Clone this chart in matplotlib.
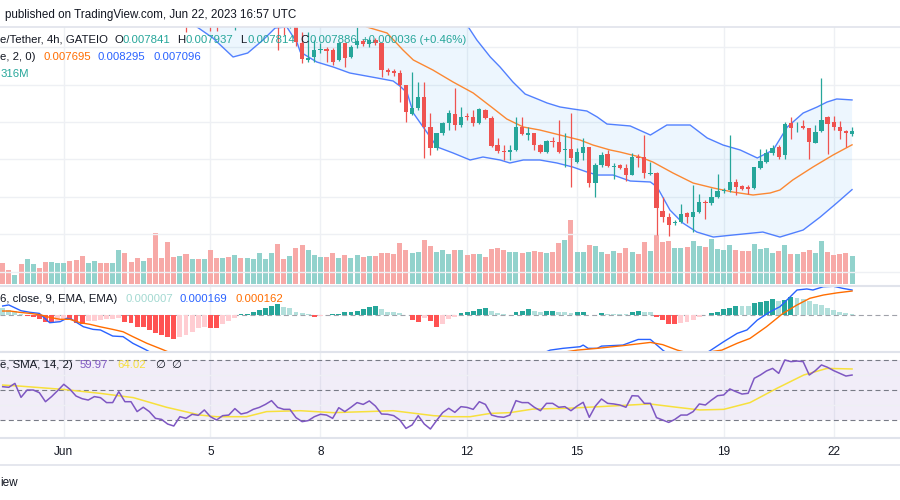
import numpy as np
import pandas as pd
import matplotlib
matplotlib.use("Agg")
import matplotlib.pyplot as plt
from matplotlib.lines import Line2D

plt.rcParams['font.family'] = ['Liberation Sans', 'DejaVu Sans']

# 4h candles, prices in micro-USDT (7841 -> 0.007841)
opens = [9990, 9960, 9940, 9970, 9920, 9980, 10010, 9970, 9930, 9960,
         9990, 10020, 9980, 9940, 9880, 9910, 9940, 9910, 9880, 9910,
         9980, 9900, 9870, 9800, 9840, 9780, 9640, 9590, 9450, 9410,
         9470, 9350, 9420, 9360, 9430, 9330, 9290, 9380, 9330, 9400,
         9350, 9420, 9480, 9540, 9580, 9620, 9420, 9300, 9350, 9056,
         8829, 8869, 8969, 8976, 8963, 8829, 9056, 8869, 9029, 9083,
         9043, 9096, 9056, 8695, 8682, 8655, 8495, 8107, 8187, 8334,
         7933, 7652, 7853, 7987, 8107, 7960, 8080, 8067, 7987, 8160,
         8053, 7692, 7612, 7599, 7626, 7933, 7826, 7853, 7692, 7599,
         7746, 7733, 7626, 7639, 7465, 7586, 7666, 7184, 7425, 7572,
         7405, 7425, 7385, 7291, 7532, 7532, 7305, 7318, 6810, 6730,
         6650, 6663, 6783, 6730, 6797, 6930, 6917, 6997, 7078, 7091,
         7198, 7144, 7131, 7118, 7385, 7465, 7586, 7666, 7559, 7987,
         7940, 7947, 7920, 7719, 7880, 8067, 8000, 7933, 7880, 7841]
highs = [10020, 9990, 9990, 9990, 9990, 10040, 10030, 9990, 9980, 10000,
         10050, 10040, 10000, 9960, 9930, 9960, 9960, 9930, 9930, 10000,
         10000, 9920, 9890, 9860, 9860, 9800, 9670, 9610, 9480, 9500,
         9490, 9440, 9440, 9450, 9450, 9350, 9400, 9400, 9420, 9420,
         9440, 9500, 9560, 9600, 9650, 9650, 9450, 9380, 9380, 9203,
         9203, 9096, 9056, 9003, 8989, 9070, 9056, 9029, 9270, 9110,
         9123, 9123, 9056, 8722, 8709, 8695, 8495, 8669, 8535, 8535,
         8120, 7853, 8000, 8160, 8455, 8201, 8120, 8160, 8187, 8174,
         8080, 7786, 7692, 7692, 8067, 8067, 7933, 7853, 7706, 7759,
         7799, 8027, 7853, 8120, 7652, 7786, 7666, 7452, 7599, 7626,
         7452, 7439, 7439, 7586, 7572, 7826, 7465, 7332, 6997, 6783,
         6690, 6904, 6797, 7158, 7037, 6957, 7118, 7305, 7118, 7826,
         7238, 7158, 7158, 7398, 7639, 7639, 7692, 7692, 8000, 8067,
         8000, 8027, 7920, 7960, 8588, 8080, 8080, 8013, 7893, 7937]
lows = [9940, 9920, 9930, 9900, 9910, 9960, 9950, 9900, 9910, 9940,
        9970, 9960, 9920, 9860, 9860, 9890, 9890, 9860, 9860, 9900,
        9880, 9850, 9780, 9780, 9760, 9600, 9560, 9420, 9380, 9390,
        9200, 9330, 9320, 9340, 9210, 9210, 9280, 9300, 9230, 9320,
        9330, 9400, 9460, 9520, 9560, 8960, 9160, 9250, 9016, 8789,
        8802, 8802, 8922, 8802, 8762, 8815, 8735, 8856, 8989, 9016,
        9003, 9029, 8602, 8628, 8615, 8267, 8000, 8094, 8160, 7519,
        7559, 7626, 7826, 7893, 7893, 7933, 8027, 7947, 7973, 8040,
        7666, 7586, 7492, 7492, 7612, 7826, 7759, 7626, 7586, 7586,
        7666, 7586, 7398, 7131, 7452, 7492, 7131, 6997, 7398, 7398,
        7238, 7372, 7211, 7291, 7398, 7251, 7291, 6489, 6663, 6476,
        6623, 6650, 6650, 6529, 6783, 6703, 6890, 6984, 7051, 7064,
        7024, 7091, 7037, 7104, 7372, 7452, 7559, 7505, 7505, 7773,
        7866, 7906, 7505, 7719, 7866, 7572, 7893, 7773, 7666, 7814]
closes = [9960, 9940, 9970, 9920, 9980, 10010, 9970, 9930, 9960, 9990,
          10020, 9980, 9940, 9880, 9910, 9940, 9910, 9880, 9910, 9980,
          9900, 9870, 9800, 9840, 9780, 9640, 9590, 9450, 9410, 9470,
          9350, 9420, 9360, 9430, 9330, 9290, 9380, 9330, 9400, 9350,
          9420, 9480, 9540, 9580, 9620, 9420, 9300, 9350, 9070, 8842,
          8856, 8963, 8976, 8949, 8802, 9056, 8856, 9003, 9083, 9043,
          9096, 9056, 8695, 8669, 8655, 8495, 8134, 8187, 8334, 7933,
          7652, 7853, 7987, 8120, 7960, 8067, 8067, 7987, 8174, 8053,
          7679, 7612, 7599, 7626, 7933, 7840, 7853, 7692, 7599, 7746,
          7733, 7599, 7639, 7519, 7599, 7666, 7184, 7425, 7559, 7412,
          7412, 7385, 7291, 7532, 7519, 7318, 7318, 6850, 6730, 6623,
          6663, 6770, 6730, 6797, 6930, 6917, 6997, 7078, 7091, 7198,
          7131, 7104, 7104, 7398, 7479, 7586, 7652, 7532, 7973, 7920,
          7947, 7920, 7733, 7866, 8027, 7973, 7933, 7880, 7850, 7886]
# volume in millions
volumes = [21, 14, 9, 20, 25, 20, 16, 22, 22, 21, 21, 23, 24, 28, 21, 23, 21, 21, 21, 34,
           31, 22, 26, 23, 26, 51, 26, 42, 27, 28, 30, 25, 25, 25, 34, 26, 26, 27, 29, 26,
           26, 25, 31, 25, 31, 40, 25, 28, 36, 39, 34, 29, 27, 27, 31, 26, 29, 26, 29, 27,
           28, 28, 31, 31, 30, 41, 34, 31, 32, 44, 38, 32, 34, 30, 34, 34, 29, 30, 30, 27,
           35, 36, 34, 32, 32, 31, 32, 33, 32, 31, 32, 41, 44, 64, 32, 32, 39, 38, 32, 30,
           33, 31, 36, 32, 30, 42, 33, 49, 42, 43, 36, 36, 37, 43, 38, 37, 45, 35, 34, 39,
           34, 33, 33, 40, 35, 36, 31, 33, 39, 30, 30, 32, 34, 31, 43, 32, 29, 30, 31, 28.3]

# Bollinger bands (20, 2) sampled along the candles: (candle index, micro-USDT)
bb_up_i = [30, 50, 65, 72, 76.2, 77.6, 79.8, 81.4, 83.5, 85.5, 87.5, 89.1, 91.2, 93.3, 95.6,
           97.3, 98.9, 102.7, 106, 108.7, 112.5, 115.3, 117.9, 120.7, 123.5, 126.1, 128.4,
           131, 133.3, 134.9, 136.5, 139]
bb_up = [10400, 10100, 9800, 9500, 9270, 9096, 8869, 8735, 8535, 8374, 8308, 8254, 8201, 8174,
         8147, 8067, 7973, 7947, 7826, 7960, 7960, 7786, 7692, 7626, 7519, 7626, 7933, 8120,
         8201, 8267, 8308, 8295]
bb_lo_i = [28, 31.8, 34.4, 37.7, 40.1, 42.6, 44.6, 46.5, 48.2, 48.7, 51.4, 54.1, 56.8, 61.3,
           63.9, 65, 66.2, 67.2, 69.5, 71.1, 73.7, 76.5, 78.6, 81.4, 83, 85.2, 87.9, 90.7, 93.3,
           95.6, 97.3, 99.9, 102.7, 106, 107.1, 109.2, 111.3, 113.6, 116.3, 119.5, 122.8, 124.4,
           127.2, 131, 133.8, 136.5, 139]
bb_lo = [9600, 9270, 9123, 8869, 8922, 9096, 9257, 9270, 9056, 8936, 8802, 8735, 8655, 8588,
         8548, 8481, 8388, 8120, 7853, 7666, 7586, 7492, 7532, 7492, 7452, 7492, 7492, 7452,
         7398, 7332, 7291, 7291, 7211, 7198, 7131, 6823, 6650, 6529, 6462, 6489, 6516, 6529,
         6462, 6556, 6730, 6917, 7096]
bb_mid_i = [50, 57.7, 59.6, 62.9, 65.5, 67.2, 70.4, 73.7, 77, 80.2, 82.5, 85.2, 87.9, 91.2,
            94.5, 96.6, 99.4, 101, 104.3, 106.4, 109.7, 113, 116.3, 119.5, 122.8, 125.6, 127.2,
            129.3, 132.6, 135.9, 139]
bb_mid = [9700, 9364, 9270, 9190, 8963, 8829, 8695, 8535, 8388, 8187, 8040, 7933, 7893, 7826,
          7759, 7692, 7626, 7599, 7532, 7465, 7318, 7184, 7118, 7064, 7024, 7051, 7091, 7225,
          7398, 7559, 7695]

# MACD (12, 26, 9), values in 1e-6
macd_hist = [45, 35, 25, 10, -5, -12, -25, -45, -56, -50, -35, -35, -52, -58, -40, -38, -36,
             -30, -25, -20, -45, -56, -78, -80, -101, -119, -135, -146, -164, -146, -135, -112,
             -90, -79, -85, -85, -60, -40, -20, 5, 10, 20, 34, 45, 60, 72, 56, 45, 22, 11, 5,
             -10, -5, 0, 5, 6, 18, 19, 27, 38, 52, 61, 38, 22, 18, 11, 0, -34, -45, -22, -38,
             -79, -63, -30, -10, 11, 20, 27, 38, 45, 27, 11, 5, 0, 18, 29, 38, 29, 23, 26, 29,
             23, 23, 16, 18, 23, 3, 0, 11, 10, 10, 9, 5, 18, 29, 18, 18, -16, -34, -63, -63,
             -56, -45, -34, -16, -3, 11, 23, 38, 50, 63, 60, 58, 79, 86, 97, 106, 97, 101, 119,
             113, 108, 95, 74, 68, 50, 34, 18, 11, 7]
macd_i = [0, 1, 3, 4.5, 6, 7.7, 9.4, 10.5, 11.3, 13.2, 14.8, 16, 18, 19.7, 21.3, 23.3, 25, 30,
          40, 50, 60, 70, 80, 86, 89.6, 91.7, 94.5, 95, 95.8, 97.3, 98, 101.5, 104, 106, 108.1,
          110, 113, 115.8, 118, 120.2, 121.8, 123.5, 125.6, 127.2, 128.9, 130, 131.6, 132.6,
          134.3, 136, 137.5, 139]
macd_v = [61, 68, 29, 18, 11, -52, -45, -22, -29, -79, -97, -101, -142, -146, -191, -232, -270,
          -330, -320, -300, -290, -330, -360, -300, -237, -225, -214, -203, -225, -225, -210,
          -203, -165, -165, -240, -290, -310, -240, -180, -124, -101, -34, 22, 56, 124, 169,
          176, 169, 191, 194, 180, 169]
sig_i = [0, 1.2, 2.8, 4.5, 6.1, 7.7, 9.4, 11, 12.7, 14.3, 15.9, 18, 19.7, 21.3, 23.6, 26.1, 28,
         35, 45, 55, 65, 75, 85, 92, 94, 97.3, 101.5, 106, 108, 110.4, 113, 117.7, 120.2, 122.3,
         125, 127.7, 130, 132.1, 134.3, 136.6, 139]
sig_v = [27, 27, 18, 11, 2, -16, -29, -29, -52, -63, -79, -97, -113, -146, -191, -232, -265,
         -360, -330, -305, -300, -320, -320, -250, -237, -225, -207, -185, -200, -237, -265,
         -237, -191, -158, -79, 11, 68, 113, 135, 150, 162]

# RSI (14) and its SMA
rsi = [52.2, 51.8, 54.4, 45.1, 50, 50, 48.2, 42.2, 45.6, 49.6, 53.8, 50.5, 46, 44.2, 43.3,
       45.6, 44.9, 41.6, 41.6, 48.9, 42.2, 42.2, 35.6, 38.5, 35.6, 31.1, 30.4, 27.3, 26, 32.2,
       31.1, 33.8, 33.1, 36.7, 32.2, 30, 32.9, 33.3, 37.6, 34, 34.9, 37.1, 38.4, 40.4, 42.9,
       38.4, 37.1, 37.1, 31.6, 28.9, 29.6, 32.2, 33.8, 33.3, 31.1, 38.2, 35.6, 38.5, 41.6, 40.4,
       42.7, 39.3, 34, 33.8, 32.9, 30, 24.4, 26.7, 32.9, 27.3, 24, 29.6, 34.9, 37.8, 35.1, 38.9,
       38.4, 37.1, 42.2, 40.4, 33.3, 32.2, 31.8, 33.3, 42.9, 41.6, 41.6, 38.5, 36.2, 41.1, 41.1,
       38.5, 38.9, 36.2, 39.3, 41.8, 31.8, 39.3, 44, 41.1, 40.7, 40, 38.5, 46.2, 46, 41.1, 41.1,
       31.6, 30, 28.4, 30.4, 33.3, 33.3, 35.6, 40.7, 40, 43.3, 46.2, 46.7, 50.7, 48.9, 47.3,
       47.8, 57.8, 60, 62.7, 64.4, 61.1, 70, 68.9, 69.3, 68.9, 60, 62.9, 66.7, 65.1, 62.9, 61.1,
       59.3, 59.97]
rsi_ma_i = [0, 2.8, 9.9, 15.9, 21.4, 26.8, 32.3, 35, 39.9, 43.2, 48.7, 54.1, 59.6, 63.9, 70.5,
            73.2, 76.5, 79.8, 83, 86.8, 92.3, 97.7, 105.9, 110.3, 114.1, 118, 122.3, 126.7,
            131.1, 134.9, 139]
rsi_ma = [53.3, 52.6, 50.4, 47.8, 44.9, 38.5, 33.3, 32.2, 32.2, 35.6, 36.2, 34.9, 35.6, 36.2,
          32.9, 32.2, 32.2, 34.4, 34.9, 37.3, 37.8, 38.9, 40.7, 38.5, 36.7, 37.1, 41.6, 51.1, 60,
          64.4, 64.02]

day_ticks = ["2023-06-01", "2023-06-05", "2023-06-08", "2023-06-12", "2023-06-15",
             "2023-06-19", "2023-06-22"]
day_labels = ["Jun", "5", "8", "12", "15", "19", "22"]

UP, DOWN = "#26a69a", "#ef5350"
UP_VOL, DOWN_VOL = "#92d2cc", "#f7a9a7"
GRID = "#eef0f4"
TXT = "#131722"

times = pd.date_range("2023-05-30 08:00", periods=len(closes), freq="4h")
idx = np.arange(len(closes))
o = np.array(opens) / 1e6
h = np.array(highs) / 1e6
l = np.array(lows) / 1e6
c = np.array(closes) / 1e6
up = c >= o
tick_pos = [times.get_loc(pd.Timestamp(d)) for d in day_ticks]

W, H = 900, 500
XL = (-0.44, 146.85)

fig = plt.figure(figsize=(9, 5), dpi=100)
fig.patch.set_facecolor("white")


def box(x0, y0, x1, y1):
    return [x0 / W, 1 - y1 / H, (x1 - x0) / W, (y1 - y0) / H]


def clean(a):
    a.set_xlim(*XL)
    for s in a.spines.values():
        s.set_visible(False)
    a.tick_params(length=0, labelleft=False, labelbottom=False)
    a.set_xticks(tick_pos)
    a.set_xticklabels([])


vol_ax = fig.add_axes(box(0, 27, 900, 285))
ax = fig.add_axes(box(0, 27, 900, 285), facecolor="none")
macd_ax = fig.add_axes(box(0, 286, 900, 351))
rsi_ax = fig.add_axes(box(0, 352, 900, 437))
for a in (vol_ax, ax, macd_ax, rsi_ax):
    clean(a)

# volume under the price
vol_ax.set_ylim(-1, 257)
vol_ax.set_yticks([])
for t in tick_pos:
    vol_ax.axvline(t, color=GRID, lw=1, zorder=0)
vol_ax.bar(idx, volumes, width=0.82, color=np.where(up, UP_VOL, DOWN_VOL), linewidth=0)

# price pane
ax.set_ylim(0.005821, 0.009270)
ax.set_yticks(np.arange(0.0060, 0.0091, 0.0005))
ax.grid(axis="y", color=GRID, lw=1)
ax.set_axisbelow(True)
bx = np.concatenate([bb_up_i, bb_lo_i[::-1]])
by = np.concatenate([bb_up, bb_lo[::-1]]) / 1e6
ax.fill(bx, by, color="#2196f3", alpha=0.08, lw=0, zorder=1)
ax.plot(bb_up_i, np.array(bb_up) / 1e6, color="#2962ff", lw=1, alpha=0.8, zorder=2)
ax.plot(bb_lo_i, np.array(bb_lo) / 1e6, color="#2962ff", lw=1, alpha=0.8, zorder=2)
ax.plot(bb_mid_i, np.array(bb_mid) / 1e6, color="#ff6d00", lw=1, alpha=0.8, zorder=2)
cols = np.where(up, UP, DOWN)
ax.vlines(idx, l, h, colors=cols, lw=0.9, zorder=3)
body = np.maximum(np.abs(c - o), 0.000012)
ax.bar(idx, body, bottom=np.minimum(o, c), width=0.7, color=cols, linewidth=0, zorder=4)

# MACD pane
macd_ax.set_ylim(-243, 196)
macd_ax.set_yticks([])
for t in tick_pos:
    macd_ax.axvline(t, color=GRID, lw=1, zorder=0)
hcol = []
for k, v in enumerate(macd_hist):
    prev = macd_hist[k - 1] if k > 0 else v + 1
    if v >= 0:
        hcol.append("#26a69a" if v > prev else "#b2dfdb")
    else:
        hcol.append("#ffcdd2" if v > prev else "#ff5252")
macd_ax.bar(idx, macd_hist, width=0.8, color=hcol, linewidth=0, zorder=2)
macd_ax.axhline(0, color="#787b86", lw=0.8, ls=(0, (4.5, 3)), alpha=0.7, zorder=1)
macd_ax.plot(macd_i, macd_v, color="#2962ff", lw=1, zorder=3)
macd_ax.plot(sig_i, sig_v, color="#ff6d00", lw=1, zorder=3)

# RSI pane
rsi_ax.set_ylim(18.67, 75.33)
rsi_ax.set_yticks([40, 60])
rsi_ax.grid(axis="y", color=GRID, lw=1)
rsi_ax.set_axisbelow(True)
for t in tick_pos:
    rsi_ax.axvline(t, color=GRID, lw=1, zorder=0)
rsi_ax.axhspan(30, 70, color="#7e57c2", alpha=0.1, lw=0, zorder=0.5)
for lev in (70, 50, 30):
    rsi_ax.axhline(lev, color="#787b86", lw=0.8, ls=(0, (4.5, 3)), zorder=1)
rsi_ax.plot(idx, rsi, color="#7e57c2", lw=1.1, zorder=3)
rsi_ax.plot(rsi_ma_i, rsi_ma, color="#f7e03c", lw=1.1, zorder=2)

# date labels under the RSI pane
for t, lab in zip(tick_pos, day_labels):
    fig.text((t + 0.44) * W / (XL[1] - XL[0]) / W, 1 - 452 / H, lab, ha="center",
             va="center", fontsize=8.5, color=TXT)

# pane borders
for yy, col, lw in [(27, "#e0e3eb", 1.2), (285.5, "#e0e3eb", 1.5), (351.5, "#e0e3eb", 1.5),
                    (437.5, "#e0e3eb", 1.5), (465, "#e0e3eb", 1.2)]:
    fig.add_artist(Line2D([0, 1], [1 - yy / H] * 2, color=col, lw=lw))


def label(x, y, s, col=TXT, size=8.2):
    fig.text(x / W, 1 - y / H, s, color=col, fontsize=size, ha="left", va="center")


label(5, 15, "published on TradingView.com, Jun 22, 2023 16:57 UTC", TXT, 8.35)
label(0, 40, "e/Tether, 4h, GATEIO", TXT)
label(114, 40, "O", TXT)
label(122, 40, "0.007841", UP)
label(177, 40, "H", TXT)
label(186, 40, "0.007937", UP)
label(240, 40, "L", TXT)
label(248, 40, "0.007814", UP)
label(300, 40, "C", TXT)
label(309, 40, "0.007886", UP)
label(362, 40, "+0.000036 (+0.46%)", UP)
label(0, 57, "e, 2, 0)", TXT)
label(43, 57, "0.007695", "#ff6d00")
label(98, 57, "0.008295", "#2962ff")
label(153, 57, "0.007096", "#2962ff")
label(1, 74, "316M", UP)
label(0, 299, "6, close, 9, EMA, EMA)", TXT)
label(125, 299, "0.000007", "#a3d9d1")
label(180, 299, "0.000169", "#2962ff")
label(235, 299, "0.000162", "#ff6d00")
label(0, 365, "e, SMA, 14, 2)", TXT)
label(80, 365, "59.97", "#7e57c2")
label(117, 365, "64.02", "#f7e03c")
label(155, 365, "\u2205", TXT)
label(171, 365, "\u2205", TXT)
label(0, 483, "iew", TXT, 8.5)

fig.savefig("out.png", dpi=100)
